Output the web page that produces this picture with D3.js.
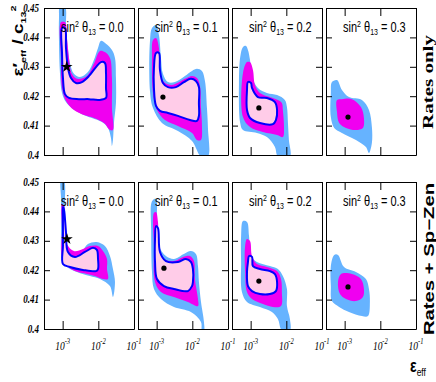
<!DOCTYPE html>
<html>
<head>
<meta charset="utf-8">
<script src="https://cdn.jsdelivr.net/npm/d3@7"></script>
<style>
body { margin: 0; background: #fff; }
svg { display: block; }
</style>
</head>
<body>
<svg id="chart" width="436" height="382"></svg>
<script>
// panel titles and row labels
const sin2t13 = ["0.0", "0.1", "0.2", "0.3"];
const rowNames = ["Rates only", "Rates + Sp\u2212Zen"];
const epsMajor = [1e-3, 1e-2, 1e-1];
const epsExp = ["-3", "-2", "-1"];
const ratioMajor = [0.40, 0.41, 0.42, 0.43, 0.44, 0.45];
const ratioLabels = ["0.4", "0.41", "0.42", "0.43", "0.44", "0.45"];

// Rates only: [eps_eff, eps'_eff/c13^2] contour points per panel
const ratesOuter = [
  [[8.4e-4,0.4505],[1.16e-3,0.4505],[1.24e-3,0.4432],[1.41e-3,0.4364],[1.60e-3,0.4313],[2.07e-3,0.4276],[3.05e-3,0.4265],[5.1e-3,0.4282],[7.5e-3,0.4323],[9.8e-3,0.4364],[1.18e-2,0.4388],[1.64e-2,0.4378],[2.41e-2,0.4357],[2.93e-2,0.4330],[3.12e-2,0.4262],[3.12e-2,0.4177],[2.74e-2,0.4109],[2.57e-2,0.4051],[2.41e-2,0.4031],[2.26e-2,0.4058],[1.86e-2,0.4092],[1.26e-2,0.4112],[6.6e-3,0.4126],[3.47e-3,0.4139],[1.82e-3,0.4160],[1.24e-3,0.4180],[9.6e-4,0.4211],[8.4e-4,0.4279],[7.9e-4,0.4381],[7.9e-4,0.4466]],
  [[7.4e-4,0.4432],[9.6e-4,0.4442],[1.16e-3,0.4408],[1.32e-3,0.4330],[1.50e-3,0.4276],[2.07e-3,0.4248],[3.25e-3,0.4248],[6.2e-3,0.4269],[9.8e-3,0.4286],[1.35e-2,0.4293],[1.86e-2,0.4286],[2.26e-2,0.4252],[2.57e-2,0.4160],[2.74e-2,0.4092],[2.74e-2,0.3995],[1.75e-2,0.3995],[9.8e-3,0.4048],[3.95e-3,0.4082],[1.41e-3,0.4109],[7.9e-4,0.4160],[6.5e-4,0.4218],[6.5e-4,0.4388]],
  [[6.1e-4,0.4367],[7.4e-4,0.4371],[8.4e-4,0.4357],[9.6e-4,0.4323],[1.09e-3,0.4265],[1.60e-3,0.4228],[2.86e-3,0.4211],[5.5e-3,0.4204],[9.1e-3,0.4187],[1.04e-2,0.4163],[1.11e-2,0.4109],[1.18e-2,0.4051],[1.26e-2,0.3995],[5.8e-3,0.3995],[4.8e-3,0.4027],[2.86e-3,0.4061],[1.50e-3,0.4075],[6.1e-4,0.4085],[5.1e-4,0.4109],[4.7e-4,0.4245],[5.1e-4,0.4333]],
  [[4.4e-4,0.4248],[6.1e-4,0.4255],[8.4e-4,0.4221],[1.32e-3,0.4197],[3.05e-3,0.4187],[4.8e-3,0.4153],[5.8e-3,0.4095],[5.8e-3,0.4041],[4.8e-3,0.4007],[3.95e-3,0.4027],[2.07e-3,0.4051],[8.4e-4,0.4075],[5.1e-4,0.4092],[4.1e-4,0.4129],[4.1e-4,0.4211]]
];
const ratesMid = [
  [[9.0e-4,0.4452],[1.16e-3,0.4452],[1.32e-3,0.4398],[1.50e-3,0.4330],[1.82e-3,0.4276],[2.52e-3,0.4259],[4.8e-3,0.4269],[7.5e-3,0.4310],[1.11e-2,0.4354],[1.53e-2,0.4350],[2.12e-2,0.4330],[2.41e-2,0.4262],[2.41e-2,0.4160],[2.57e-2,0.4085],[2.12e-2,0.4085],[1.44e-2,0.4109],[7.5e-3,0.4126],[3.95e-3,0.4136],[2.07e-3,0.4153],[1.24e-3,0.4184],[9.6e-4,0.4228],[9.0e-4,0.4330]],
  [[7.9e-4,0.4391],[9.6e-4,0.4398],[1.16e-3,0.4364],[1.24e-3,0.4289],[1.60e-3,0.4248],[2.68e-3,0.4238],[6.2e-3,0.4259],[9.8e-3,0.4269],[1.35e-2,0.4262],[1.64e-2,0.4235],[1.75e-2,0.4160],[1.86e-2,0.4102],[1.75e-2,0.4051],[1.35e-2,0.4051],[9.8e-3,0.4075],[3.95e-3,0.4099],[1.71e-3,0.4119],[1.02e-3,0.4153],[7.9e-4,0.4211],[7.4e-4,0.4330]],
  [[7.9e-4,0.4316],[9.6e-4,0.4316],[1.16e-3,0.4289],[1.32e-3,0.4238],[1.82e-3,0.4211],[3.47e-3,0.4197],[5.8e-3,0.4187],[7.5e-3,0.4177],[8.0e-3,0.4153],[8.6e-3,0.4095],[8.0e-3,0.4061],[5.5e-3,0.4068],[2.21e-3,0.4078],[9.6e-4,0.4095],[6.1e-4,0.4129],[6.1e-4,0.4279]],
  [[6.1e-4,0.4187],[8.4e-4,0.4190],[1.60e-3,0.4190],[2.86e-3,0.4163],[3.47e-3,0.4126],[3.25e-3,0.4092],[2.07e-3,0.4085],[1.09e-3,0.4092],[7.0e-4,0.4109],[6.1e-4,0.4146]]
];
const ratesInner = [
  [[9.6e-4,0.4432],[1.16e-3,0.4432],[1.24e-3,0.4364],[1.41e-3,0.4296],[1.71e-3,0.4262],[2.36e-3,0.4245],[3.47e-3,0.4248],[5.5e-3,0.4269],[8.6e-3,0.4299],[1.18e-2,0.4316],[1.53e-2,0.4313],[1.64e-2,0.4279],[1.64e-2,0.4228],[1.64e-2,0.4194],[1.04e-2,0.4187],[5.5e-3,0.4190],[2.86e-3,0.4190],[1.50e-3,0.4194],[1.16e-3,0.4207],[1.02e-3,0.4262],[9.6e-4,0.4347]],
  [[9.6e-4,0.4347],[1.16e-3,0.4347],[1.24e-3,0.4289],[1.50e-3,0.4245],[2.07e-3,0.4231],[3.47e-3,0.4231],[5.8e-3,0.4248],[9.1e-3,0.4259],[1.26e-2,0.4252],[1.53e-2,0.4231],[1.53e-2,0.4177],[1.53e-2,0.4133],[1.35e-2,0.4116],[8.6e-3,0.4119],[3.95e-3,0.4133],[2.07e-3,0.4143],[1.24e-3,0.4150],[9.6e-4,0.4167],[8.4e-4,0.4228],[8.4e-4,0.4296]],
  [[8.4e-4,0.4248],[1.02e-3,0.4245],[1.09e-3,0.4228],[1.60e-3,0.4197],[2.86e-3,0.4194],[4.8e-3,0.4180],[5.5e-3,0.4153],[5.1e-3,0.4119],[4.2e-3,0.4105],[1.82e-3,0.4109],[9.6e-4,0.4126],[7.9e-4,0.4153],[7.9e-4,0.4221]],
  null
];
const ratesBest = [[1.3e-3,0.4300],[1.5e-3,0.4197],[1.7e-3,0.4160],[1.24e-3,0.4129]];

// Rates + Sp-Zen
const zenOuter = [
  [[9.0e-4,0.4505],[1.09e-3,0.4505],[1.16e-3,0.4418],[1.24e-3,0.4340],[1.41e-3,0.4279],[2.21e-3,0.4255],[3.47e-3,0.4265],[5.1e-3,0.4289],[9.1e-3,0.4296],[1.53e-2,0.4282],[2.12e-2,0.4248],[2.57e-2,0.4204],[2.93e-2,0.4160],[2.57e-2,0.4109],[2.12e-2,0.4146],[1.11e-2,0.4170],[5.8e-3,0.4180],[2.52e-3,0.4194],[1.32e-3,0.4211],[9.6e-4,0.4238],[9.0e-4,0.4340],[9.0e-4,0.4442]],
  [[7.0e-4,0.4425],[7.9e-4,0.4439],[9.6e-4,0.4442],[1.02e-3,0.4374],[1.16e-3,0.4282],[1.82e-3,0.4248],[3.05e-3,0.4238],[5.8e-3,0.4255],[9.1e-3,0.4265],[1.26e-2,0.4255],[1.44e-2,0.4214],[1.53e-2,0.4160],[1.75e-2,0.4092],[2.12e-2,0.4024],[2.12e-2,0.3995],[1.86e-2,0.3995],[1.75e-2,0.4024],[9.1e-3,0.4058],[3.05e-3,0.4075],[1.32e-3,0.4102],[8.4e-4,0.4136],[7.4e-4,0.4194],[7.0e-4,0.4340]],
  [[6.1e-4,0.4367],[7.9e-4,0.4364],[9.0e-4,0.4316],[1.02e-3,0.4248],[1.50e-3,0.4228],[3.47e-3,0.4214],[5.8e-3,0.4204],[8.0e-3,0.4180],[1.04e-2,0.4136],[1.04e-2,0.4078],[1.26e-2,0.4034],[1.26e-2,0.3995],[7.5e-3,0.3995],[5.8e-3,0.4034],[3.95e-3,0.4058],[1.82e-3,0.4075],[7.9e-4,0.4092],[5.7e-4,0.4126],[5.4e-4,0.4228],[5.4e-4,0.4316]],
  [[5.1e-4,0.4252],[6.5e-4,0.4252],[9.6e-4,0.4211],[2.07e-3,0.4194],[3.95e-3,0.4170],[4.8e-3,0.4136],[5.1e-3,0.4092],[4.5e-3,0.4044],[3.05e-3,0.4044],[1.32e-3,0.4058],[7.0e-4,0.4075],[4.4e-4,0.4095],[4.1e-4,0.4146],[4.1e-4,0.4214]]
];
const zenMid = [
  [[9.6e-4,0.4425],[1.09e-3,0.4418],[1.16e-3,0.4340],[1.32e-3,0.4289],[2.07e-3,0.4265],[3.70e-3,0.4272],[5.8e-3,0.4282],[9.8e-3,0.4282],[1.35e-2,0.4265],[1.75e-2,0.4238],[1.75e-2,0.4204],[1.86e-2,0.4170],[1.35e-2,0.4170],[8.0e-3,0.4180],[4.8e-3,0.4187],[2.21e-3,0.4197],[1.32e-3,0.4214],[9.6e-4,0.4245],[9.6e-4,0.4340]],
  [[8.4e-4,0.4395],[9.6e-4,0.4398],[1.09e-3,0.4364],[1.16e-3,0.4272],[1.60e-3,0.4238],[3.05e-3,0.4231],[5.5e-3,0.4245],[8.6e-3,0.4248],[1.11e-2,0.4231],[1.18e-2,0.4170],[1.44e-2,0.4102],[1.44e-2,0.4078],[7.5e-3,0.4092],[3.05e-3,0.4109],[1.32e-3,0.4126],[9.0e-4,0.4160],[8.4e-4,0.4282]],
  [[7.9e-4,0.4306],[9.6e-4,0.4299],[1.09e-3,0.4248],[1.50e-3,0.4221],[2.86e-3,0.4211],[5.5e-3,0.4197],[7.1e-3,0.4170],[7.5e-3,0.4126],[7.1e-3,0.4078],[4.2e-3,0.4075],[2.21e-3,0.4085],[1.09e-3,0.4102],[7.9e-4,0.4126],[7.0e-4,0.4194],[7.0e-4,0.4282]],
  [[7.9e-4,0.4187],[1.60e-3,0.4187],[2.86e-3,0.4170],[3.47e-3,0.4136],[3.25e-3,0.4109],[2.07e-3,0.4095],[1.09e-3,0.4102],[7.4e-4,0.4119],[6.5e-4,0.4160]]
];
const zenInner = [
  [[1.02e-3,0.4415],[1.09e-3,0.4405],[1.24e-3,0.4330],[1.41e-3,0.4262],[2.21e-3,0.4245],[4.2e-3,0.4262],[7.1e-3,0.4276],[9.1e-3,0.4269],[9.8e-3,0.4238],[9.8e-3,0.4204],[8.6e-3,0.4197],[3.70e-3,0.4201],[1.60e-3,0.4211],[1.02e-3,0.4221],[1.02e-3,0.4282],[1.02e-3,0.4374]],
  [[9.6e-4,0.4350],[1.09e-3,0.4343],[1.24e-3,0.4262],[1.82e-3,0.4231],[3.95e-3,0.4228],[6.6e-3,0.4238],[9.1e-3,0.4228],[1.04e-2,0.4204],[1.04e-2,0.4160],[9.8e-3,0.4146],[7.5e-3,0.4129],[3.05e-3,0.4136],[1.60e-3,0.4146],[1.02e-3,0.4170],[9.0e-4,0.4228],[9.0e-4,0.4306]],
  [[9.0e-4,0.4248],[1.09e-3,0.4245],[1.16e-3,0.4214],[1.82e-3,0.4204],[3.47e-3,0.4197],[4.8e-3,0.4187],[5.5e-3,0.4160],[5.1e-3,0.4129],[3.47e-3,0.4119],[1.82e-3,0.4119],[1.09e-3,0.4129],[8.4e-4,0.4146],[7.9e-4,0.4194],[8.4e-4,0.4228]],
  null
];
const zenBest = [[1.32e-3,0.4306],[1.6e-3,0.4207],[1.7e-3,0.4163],[1.24e-3,0.4143]];

const rows = [
  { outer: ratesOuter, mid: ratesMid, inner: ratesInner, best: ratesBest },
  { outer: zenOuter, mid: zenMid, inner: zenInner, best: zenBest }
];

const panelLeft = [44, 138, 232, 326];
const rowTop = [8, 182];
const panelW = 90, panelH = 147;
const SANS = "'Liberation Sans', Arial, sans-serif";
const SERIF = "'Liberation Serif', 'Times New Roman', serif";

const cOuter = "#66b3ff", cMid = "#f000f0", cBlue = "#0000ff", cPink = "#ffcce8";

const svg = d3.select("#chart");

const x = d3.scaleLog().domain([3e-4, 0.1]).range([0, panelW]);
const y = d3.scaleLinear().domain([0.40, 0.45]).range([panelH, 0]);

const line = d3.line()
  .x(d => x(d[0]))
  .y(d => y(d[1]))
  .curve(d3.curveCatmullRomClosed.alpha(0.5));

const xMinor = x.ticks().filter(v => !epsMajor.some(m => Math.abs(m - v) / m < 1e-6));
const yMinor = d3.range(0.402, 0.45, 0.002).filter(v => Math.abs(v * 100 - Math.round(v * 100)) > 1e-6);

rows.forEach((row, r) => {
  sin2t13.forEach((s, c) => {
    const g = svg.append("g").attr("transform", `translate(${panelLeft[c]},${rowTop[r]})`);
    const clipId = "clip" + r + c;
    g.append("clipPath").attr("id", clipId)
      .append("rect").attr("width", panelW).attr("height", panelH);

    const area = g.append("g").attr("clip-path", `url(#${clipId})`);
    area.append("path").datum(row.outer[c]).attr("d", line).attr("fill", cOuter);
    area.append("path").datum(row.mid[c]).attr("d", line).attr("fill", cMid);
    if (row.inner[c]) {
      area.append("path").datum(row.inner[c]).attr("d", line)
        .attr("fill", cPink).attr("stroke", cBlue).attr("stroke-width", 2);
    }

    // best fit point
    const b = row.best[c];
    if (c === 0) {
      area.append("path")
        .attr("d", d3.symbol(d3.symbolStar, 42)())
        .attr("transform", `translate(${x(b[0])},${y(b[1])})`)
        .attr("fill", "#000");
    } else {
      area.append("circle").attr("cx", x(b[0])).attr("cy", y(b[1])).attr("r", 2.6).attr("fill", "#000");
    }

    // title
    const t = g.append("text")
      .attr("transform", "translate(17,24) scale(1,1.3)")
      .attr("font-family", SANS).attr("font-size", 11).attr("fill", "#000");
    t.append("tspan").text("sin");
    t.append("tspan").attr("font-size", 7).attr("dy", -4).text("2");
    t.append("tspan").attr("dy", 4).text(" \u03b8");
    t.append("tspan").attr("font-size", 7).attr("dy", 2.5).text("13");
    t.append("tspan").attr("dy", -2.5).text(" = " + s);

    // axes (ticks point inward)
    const axes = g.append("g");
    const bottom = axes.append("g").attr("transform", `translate(0,${panelH})`);
    bottom.call(d3.axisBottom(x).tickValues(xMinor).tickSize(-4).tickSizeOuter(0).tickFormat(""));
    bottom.call(d3.axisBottom(x).tickValues(epsMajor).tickSize(-8).tickSizeOuter(0).tickFormat(""));
    const top = axes.append("g");
    top.call(d3.axisTop(x).tickValues(xMinor).tickSize(-4).tickSizeOuter(0).tickFormat(""));
    top.call(d3.axisTop(x).tickValues(epsMajor).tickSize(-8).tickSizeOuter(0).tickFormat(""));
    const left = axes.append("g");
    left.call(d3.axisLeft(y).tickValues(yMinor).tickSize(-3.5).tickSizeOuter(0).tickFormat(""));
    left.call(d3.axisLeft(y).tickValues(ratioMajor).tickSize(-6).tickSizeOuter(0).tickFormat(""));
    const right = axes.append("g").attr("transform", `translate(${panelW},0)`);
    right.call(d3.axisRight(y).tickValues(yMinor).tickSize(-3.5).tickSizeOuter(0).tickFormat(""));
    right.call(d3.axisRight(y).tickValues(ratioMajor).tickSize(-6).tickSizeOuter(0).tickFormat(""));

    // y tick labels on first column
    if (c === 0) {
      ratioMajor.forEach((v, i) => {
        g.append("text")
          .attr("transform", `translate(-5,${y(v) + 3.5}) scale(1,1.3)`)
          .attr("text-anchor", "end")
          .attr("font-family", SERIF).attr("font-style", "italic").attr("font-weight", "bold")
          .attr("font-size", 9).attr("fill", "#000")
          .text(ratioLabels[i]);
      });
    }

    // x tick labels on the bottom row
    if (r === 1) {
      epsMajor.forEach((v, i) => {
        const lt = g.append("text")
          .attr("transform", `translate(${x(v)},${panelH + 21}) scale(1,1.3)`)
          .attr("text-anchor", "middle")
          .attr("font-family", SERIF).attr("font-style", "italic")
          .attr("font-size", 9.5).attr("fill", "#000");
        lt.append("tspan").text("10");
        lt.append("tspan").attr("font-size", 6.5).attr("dy", -5).text(epsExp[i]);
      });
    }
  });
});

// y axis title
const yt = svg.append("text")
  .attr("transform", "translate(23,41) rotate(-90) scale(1.35,1)")
  .attr("text-anchor", "middle")
  .attr("font-family", SANS).attr("font-weight", "bold").attr("font-size", 14).attr("fill", "#000");
yt.append("tspan").text("\u03b5\u2032");
yt.append("tspan").attr("font-size", 8).attr("dy", 3).text("eff");
yt.append("tspan").attr("dy", -3).text(" / c");
yt.append("tspan").attr("font-size", 8).attr("dy", 3).text("13");
yt.append("tspan").attr("font-size", 8).attr("dy", -10).text("2");

// row labels on the right
svg.append("text")
  .attr("transform", "translate(433,82) rotate(-90) scale(1.4,1)")
  .attr("text-anchor", "middle")
  .attr("font-family", SERIF).attr("font-weight", "bold").attr("font-size", 15).attr("fill", "#000")
  .text(rowNames[0]);
svg.append("text")
  .attr("transform", "translate(434,259) rotate(-90) scale(1.45,1)")
  .attr("text-anchor", "middle")
  .attr("font-family", SANS).attr("font-weight", "bold").attr("font-size", 14).attr("fill", "#000")
  .text(rowNames[1]);

// x axis title
const xt = svg.append("text")
  .attr("transform", "translate(410,372) scale(1,1.35)")
  .attr("font-family", SANS).attr("font-weight", "bold").attr("font-size", 14).attr("fill", "#000");
xt.append("tspan").text("\u03b5");
xt.append("tspan").attr("font-size", 8.5).attr("font-weight", "normal").attr("dy", 3).text("eff");
</script>
</body>
</html>
